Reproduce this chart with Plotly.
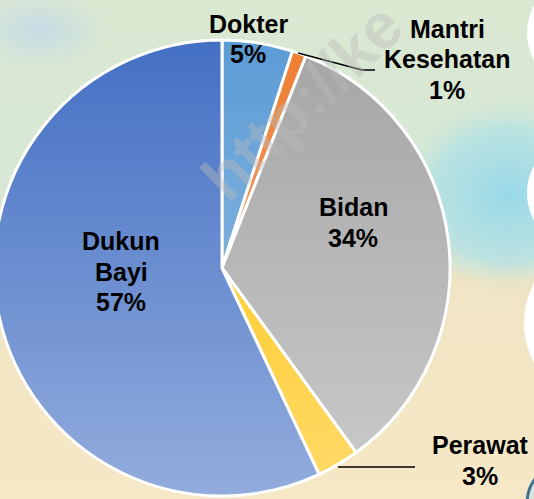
import base64
import plotly.graph_objects as go

# ---- data ----
labels = ["Dokter", "Mantri Kesehatan", "Bidan", "Perawat", "Dukun Bayi"]
label_lines = [["Dokter"], ["Mantri", "Kesehatan"], ["Bidan"], ["Perawat"], ["Dukun", "Bayi"]]
values = [5, 1, 34, 3, 57]
colors = ["#5b9bd5", "#ed7d31", "#a5a5a5", "#ffc000", "#4470c4"]

# ---- layout geometry (page pixels, 534x499 window) ----
PW, H = 534, 499
OX = 6                 # figure is shifted 6px left on the page
FW = PW + OX           # figure width
label_pos = [(248, 24), (447, 29), (353, 207), (480, 445), (121, 241)]
LINE = 30.5            # line spacing of labels in px
CX, CY, R = 222, 268, 228

def P(px, py):
    return (px + OX) / FW, 1 - py / H

def svg_uri(s):
    return "data:image/svg+xml;base64," + base64.b64encode(s.encode()).decode()

# ---- background (soft map-like wash) ----
bg_svg = f'''<svg xmlns="http://www.w3.org/2000/svg" width="{FW}" height="{H}" viewBox="0 0 {FW} {H}">
<defs>
<linearGradient id="g" x1="0" y1="0" x2="0" y2="1">
<stop offset="0" stop-color="#dbe8d2"/>
<stop offset="0.3" stop-color="#d6e8d4"/>
<stop offset="0.5" stop-color="#d9e6d3"/>
<stop offset="0.56" stop-color="#efe4c4"/>
<stop offset="1" stop-color="#f6e8c6"/>
</linearGradient>
<radialGradient id="c" cx="0.5" cy="0.5" r="0.5">
<stop offset="0" stop-color="#98d9e8" stop-opacity="1"/>
<stop offset="0.7" stop-color="#ade0e6" stop-opacity="0.7"/>
<stop offset="1" stop-color="#c8e6e0" stop-opacity="0"/>
</radialGradient>
<radialGradient id="b" cx="0.5" cy="0.5" r="0.5">
<stop offset="0" stop-color="#c2d9ea" stop-opacity="0.8"/>
<stop offset="1" stop-color="#c2d9ea" stop-opacity="0"/>
</radialGradient>
</defs>
<rect width="{FW}" height="{H}" fill="url(#g)"/>
<ellipse cx="515" cy="195" rx="110" ry="95" fill="url(#c)"/>
<ellipse cx="45" cy="30" rx="70" ry="40" fill="url(#b)"/>
</svg>'''

# ---- vertical light gradient over the pie (slices lighten toward bottom) ----
ov_svg = f'''<svg xmlns="http://www.w3.org/2000/svg" width="{FW}" height="{H}" viewBox="0 0 {FW} {H}">
<defs>
<linearGradient id="w" gradientUnits="userSpaceOnUse" x1="0" y1="{CY - R}" x2="0" y2="{CY + R}">
<stop offset="0" stop-color="#ffffff" stop-opacity="0"/>
<stop offset="1" stop-color="#ffffff" stop-opacity="0.42"/>
</linearGradient>
</defs>
<circle cx="{CX + OX}" cy="{CY}" r="{R}" fill="url(#w)"/>
</svg>'''

fig = go.Figure(go.Pie(
    labels=labels,
    values=values,
    sort=False,
    direction="clockwise",
    rotation=0,
    marker=dict(colors=colors, line=dict(color="white", width=3)),
    textinfo="none",
    hoverinfo="label+percent",
    domain=dict(x=[(CX - R + OX) / FW, (CX + R + OX) / FW],
                y=[(H - CY - R) / H, (H - CY + R) / H]),
    showlegend=False,
))

total = sum(values)
FONT = dict(family="Liberation Sans, Arial, sans-serif", size=25, color="black")
annotations = []
# faint watermark (drawn first, beneath the labels)
wx, wy = P(302, 102)
annotations.append(dict(
    x=wx, y=wy, xref="paper", yref="paper", xanchor="center", yanchor="middle",
    text="<b>http://ke</b>", showarrow=False, textangle=-44,
    font=dict(family="Liberation Sans, Arial, sans-serif", size=64,
              color="rgba(185,185,185,0.42)"),
))
for lines, v, (px, py) in zip(label_lines, values, label_pos):
    all_lines = lines + [f"{round(v / total * 100)}%"]
    for i, t in enumerate(all_lines):
        x, y = P(px, py + i * LINE)
        annotations.append(dict(
            x=x, y=y, xref="paper", yref="paper", text=f"<b>{t}</b>",
            showarrow=False, xanchor="center", yanchor="middle", font=FONT,
        ))

shapes = []
# leader lines
for pts in [[(298, 53), (362, 70), (375, 70)], [(338, 467), (415, 467)]]:
    path = "M " + " L ".join(f"{P(x, y)[0]},{P(x, y)[1]}" for x, y in pts)
    shapes.append(dict(type="path", xref="paper", yref="paper", path=path,
                       line=dict(color="black", width=1.5)))
# white rounded shapes at right edge (background decoration)
for (xl, xr, yt, yb) in [(527, 641, -24, 90), (527, 641, 136, 250), (524, 694, 238, 408)]:
    x0, y0p = P(xl, yt)
    x1, y1p = P(xr, yb)
    shapes.append(dict(type="circle", xref="paper", yref="paper",
                       x0=x0, x1=x1, y0=y1p, y1=y0p,
                       fillcolor="white", line=dict(color="white", width=0),
                       layer="below"))
x0, y0p = P(527, 462)
x1, y1p = P(610, 545)
shapes.append(dict(type="circle", xref="paper", yref="paper",
                   x0=x0, x1=x1, y0=y1p, y1=y0p,
                   fillcolor="rgba(200,225,235,0.6)", line=dict(color="#3f6f95", width=3),
                   layer="below"))

img_common = dict(xref="paper", yref="paper", x=0, y=1, sizex=1, sizey=1,
                  sizing="stretch", xanchor="left", yanchor="top")
fig.update_layout(
    width=FW, height=H,
    margin=dict(l=0, r=0, t=0, b=0),
    paper_bgcolor="#e6e9d2",
    plot_bgcolor="rgba(0,0,0,0)",
    images=[dict(source=svg_uri(bg_svg), layer="below", **img_common),
            dict(source=svg_uri(ov_svg), layer="above", **img_common)],
    annotations=annotations,
    shapes=shapes,
)

post = (
    "document.body.style.margin='0';"
    "document.body.style.overflow='hidden';"
    "var d=document.getElementById('{plot_id}');"
    f"d.style.marginLeft='-{OX}px';"
)
fig.write_html("out.html", post_script=post, config={"displayModeBar": False})
